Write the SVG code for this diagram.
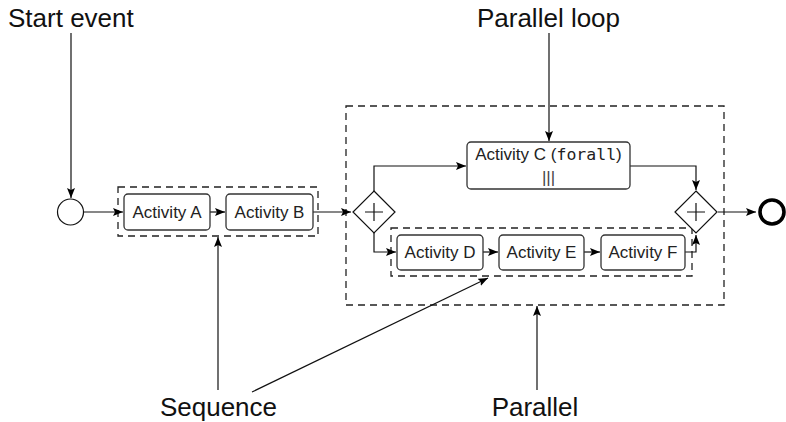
<svg xmlns="http://www.w3.org/2000/svg" width="786" height="422" viewBox="0 0 786 422">
<defs>
<marker id="arr" viewBox="0 0 10 8" refX="10" refY="4" markerWidth="10" markerHeight="8" markerUnits="userSpaceOnUse" orient="auto">
<path d="M0,0 L10,4 L0,8 L2,4 z" fill="#000"/>
</marker>
<style>
.lbl{font-family:"Liberation Sans",Arial,sans-serif;font-size:26px;fill:#111}
.act{font-family:"Liberation Sans",Arial,sans-serif;font-size:17px;fill:#222}
.mono{font-family:"DejaVu Sans Mono","Liberation Mono",monospace;font-size:16.5px}
.box{fill:#fff;stroke:#333;stroke-width:1.3}
.dash{fill:none;stroke:#222;stroke-width:1.3;stroke-dasharray:7 5}
.ln{fill:none;stroke:#111;stroke-width:1.2}
.gw{fill:#fff;stroke:#111;stroke-width:1.2}
</style>
</defs>
<rect width="786" height="422" fill="#fff"/>
<g id="parallel-box"><rect class="dash" x="346" y="106" width="378" height="199"/></g>
<g id="sequence-box-1"><rect class="dash" x="118" y="187" width="200" height="49"/></g>
<g id="sequence-box-2"><rect class="dash" x="391" y="228" width="301" height="48"/></g>
<g id="connectors">
<path class="ln" d="M71,33 V198" marker-end="url(#arr)"/>
<path class="ln" d="M549,33 V141" marker-end="url(#arr)"/>
<path class="ln" d="M218,390 V237" marker-end="url(#arr)"/>
<path class="ln" d="M252,392 L488,278" marker-end="url(#arr)"/>
<path class="ln" d="M537,390 V306" marker-end="url(#arr)"/>
<path class="ln" d="M84,212 H123" marker-end="url(#arr)"/>
<path class="ln" d="M210,212 H225" marker-end="url(#arr)"/>
<path class="ln" d="M313,212 H351" marker-end="url(#arr)"/>
<path class="ln" d="M374,191 V166 H466" marker-end="url(#arr)"/>
<path class="ln" d="M374,233 V252 H396" marker-end="url(#arr)"/>
<path class="ln" d="M483,252 H498" marker-end="url(#arr)"/>
<path class="ln" d="M584,252 H600" marker-end="url(#arr)"/>
<path class="ln" d="M630,166 H696 V190" marker-end="url(#arr)"/>
<path class="ln" d="M685,252 H696 V235" marker-end="url(#arr)"/>
<path class="ln" d="M718,212 H756" marker-end="url(#arr)"/>
</g>
<g id="start-event"><circle cx="70.5" cy="212" r="13" fill="#fff" stroke="#111" stroke-width="1.2"/></g>
<g id="end-event"><circle cx="772" cy="212" r="12" fill="#fff" stroke="#000" stroke-width="3.6"/></g>
<g id="activity-a"><rect class="box" x="124" y="194" width="86" height="36" rx="4"/><text class="act" x="167" y="218" text-anchor="middle">Activity A</text></g>
<g id="activity-b"><rect class="box" x="226" y="194" width="87" height="36" rx="4"/><text class="act" x="269.5" y="218" text-anchor="middle">Activity B</text></g>
<g id="gateway-split"><path class="gw" d="M374,191 L395,212 L374,233 L353,212 z"/><path class="ln" d="M374,203 V221 M365,212 H383"/></g>
<g id="activity-c"><rect class="box" x="467" y="142" width="163" height="47" rx="4"/><text class="act" x="548.5" y="160" text-anchor="middle">Activity C (<tspan class="mono">forall</tspan>)</text><text class="act" x="548.5" y="183" text-anchor="middle" style="fill:#444">|||</text></g>
<g id="activity-d"><rect class="box" x="397" y="235" width="86" height="35" rx="4"/><text class="act" x="440" y="258" text-anchor="middle">Activity D</text></g>
<g id="activity-e"><rect class="box" x="499" y="235" width="85" height="35" rx="4"/><text class="act" x="541.5" y="258" text-anchor="middle">Activity E</text></g>
<g id="activity-f"><rect class="box" x="601" y="235" width="84" height="35" rx="4"/><text class="act" x="643" y="258" text-anchor="middle">Activity F</text></g>
<g id="gateway-join"><path class="gw" d="M696,191 L717,212 L696,233 L675,212 z"/><path class="ln" d="M696,203 V221 M687,212 H705"/></g>
<g id="labels">
<text class="lbl" x="8" y="27">Start event</text>
<text class="lbl" x="548.5" y="27" text-anchor="middle">Parallel loop</text>
<text class="lbl" x="218.5" y="416" text-anchor="middle">Sequence</text>
<text class="lbl" x="535" y="416" text-anchor="middle">Parallel</text>
</g>
</svg>
